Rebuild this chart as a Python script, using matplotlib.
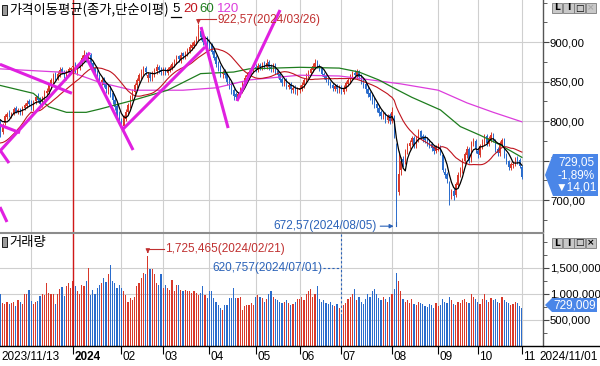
import numpy as np
import pandas as pd
import matplotlib
matplotlib.use("Agg")
import matplotlib.pyplot as plt
import matplotlib.transforms as mtransforms
from matplotlib.patches import Polygon, Rectangle
from matplotlib.lines import Line2D
from matplotlib.ticker import MultipleLocator

# ---- daily bars, 2023/11/13 .. 2024/11/01 (one row per month) ----
open_ = [
    800, 786, 797, 805, 811, 806, 809, 816, 811, 815, 809, 816, 819, 825,
    823, 816, 825, 832, 828, 821, 829, 835, 837, 844, 850, 859, 855, 859, 866, 863, 856, 861, 864,
    868, 872, 862, 867, 873, 879, 886, 877, 884, 873, 867, 861, 857, 848, 853, 847, 838, 843, 836, 827, 819, 810,
    801, 794, 803, 811, 819, 829, 837, 846, 851, 856, 861, 867, 855, 859, 854, 859, 863, 869, 865,
    861, 866, 861, 865, 867, 871, 875, 882, 877, 886, 881, 885, 889, 893, 895, 899, 905, 914, 908, 899, 905,
    900, 896, 889, 881, 873, 869, 859, 863, 859, 851, 846, 839, 834, 829, 833, 839, 847, 856, 857, 861, 864,
    869, 865, 871, 867, 873, 869, 875, 869, 865, 871, 863, 859, 853, 847, 851, 843, 847, 839, 843, 837,
    839, 841, 845, 851, 857, 861, 865, 869, 875, 869, 867, 859, 857, 851, 849, 845, 841, 845, 839,
    843, 837, 841, 847, 851, 855, 861, 857, 863, 857, 851, 847, 841, 835, 831, 827, 821, 817, 811, 805, 809, 801, 807,
    800, 805, 770, 710, 738, 752, 750, 762, 769, 773, 779, 769, 777, 787, 781, 779, 777, 774, 771, 767, 762,
    766, 767, 757, 736, 733, 722, 705, 712, 706, 719, 733, 737, 749, 757, 765, 752, 771, 775,
    762, 757, 767, 773, 781, 771, 777, 783, 775, 765, 759, 771, 777, 757, 749, 741, 744, 745, 753, 751,
    742,
]
high = [
    802, 797, 809, 812, 814, 812, 818, 819, 816, 817, 819, 823, 826, 828,
    826, 826, 833, 835, 830, 832, 839, 842, 848, 855, 861, 862, 863, 868, 869, 865, 864, 869, 869,
    878, 875, 869, 877, 884, 890, 888, 886, 886, 876, 869, 864, 859, 856, 856, 849, 846, 846, 838, 830, 822, 813,
    804, 808, 815, 823, 833, 841, 848, 855, 861, 866, 870, 870, 862, 862, 863, 867, 872, 871, 868,
    868, 868, 869, 871, 875, 879, 884, 884, 887, 888, 889, 893, 898, 900, 903, 908, 922.57, 916, 910, 907, 908,
    904, 899, 892, 884, 876, 871, 865, 866, 861, 854, 849, 842, 837, 837, 843, 851, 858, 862, 865, 868, 872,
    872, 873, 874, 875, 876, 878, 877, 872, 873, 873, 866, 861, 856, 853, 854, 849, 849, 845, 846, 843,
    846, 849, 855, 861, 865, 869, 873, 878, 877, 872, 869, 862, 859, 854, 851, 848, 847, 847, 845,
    846, 845, 851, 855, 859, 863, 864, 866, 865, 859, 854, 850, 844, 838, 834, 830, 824, 820, 814, 812, 812, 809, 810,
    818, 808, 772, 762, 754, 756, 765, 772, 776, 781, 781, 781, 790, 789, 784, 782, 780, 777, 774, 770, 770,
    772, 770, 758, 740, 736, 724, 714, 715, 723, 735, 742, 753, 761, 768, 767, 775, 778, 777,
    765, 771, 777, 784, 783, 781, 786, 785, 777, 767, 775, 779, 778, 759, 751, 748, 750, 755, 756, 753,
    744,
]
low = [
    780, 784, 795, 803, 805, 804, 807, 810, 809, 807, 807, 814, 817, 819,
    814, 813, 822, 824, 818, 818, 826, 832, 834, 841, 847, 852, 852, 856, 859, 855, 852, 858, 860,
    862, 861, 858, 864, 870, 876, 875, 874, 869, 862, 856, 852, 846, 845, 843, 836, 834, 830, 822, 814, 804, 796,
    790, 791, 800, 808, 816, 826, 834, 842, 848, 853, 858, 858, 850, 851, 851, 856, 860, 861, 858,
    858, 858, 858, 862, 864, 868, 872, 875, 874, 879, 878, 882, 886, 890, 892, 896, 902, 903, 896, 896, 894,
    891, 885, 877, 869, 863, 856, 855, 854, 846, 841, 834, 827, 826, 826, 830, 836, 844, 852, 854, 858, 861,
    862, 862, 864, 864, 866, 866, 865, 862, 862, 859, 855, 849, 844, 844, 841, 840, 836, 836, 834, 833,
    835, 838, 842, 848, 854, 858, 862, 866, 867, 863, 857, 853, 849, 845, 842, 838, 838, 836, 836,
    834, 834, 838, 844, 848, 852, 854, 854, 853, 847, 842, 836, 830, 826, 822, 816, 812, 806, 802, 802, 798, 798, 796,
    797, 778, 672.57, 706, 732, 742, 746, 758, 764, 770, 766, 766, 774, 777, 774, 772, 769, 766, 762, 758, 759,
    762, 757, 735, 728, 722, 694, 701, 700, 704, 716, 729, 734, 746, 753, 747, 748, 768, 760,
    753, 754, 764, 770, 769, 768, 774, 773, 761, 756, 756, 768, 753, 745, 738, 738, 741, 743, 746, 740,
    726,
]
close = [
    788, 795, 806, 809, 808, 810, 815, 812, 814, 810, 817, 820, 823, 822,
    818, 824, 830, 827, 822, 830, 836, 838, 845, 852, 858, 856, 860, 864, 862, 858, 862, 866, 866.57,
    870, 864, 866, 874, 880, 884, 878, 882, 872, 866, 860, 856, 850, 852, 846, 840, 842, 834, 826, 818, 808, 800,
    796, 805, 812, 820, 830, 838, 845, 852, 858, 862, 866, 862, 858, 855, 860, 864, 868, 864, 862,
    864, 862, 866, 868, 872, 876, 880, 878, 884, 882, 886, 890, 894, 896, 900, 904, 912, 906, 900, 904, 898,
    895, 888, 880, 872, 868, 860, 862, 858, 850, 845, 838, 832, 830, 834, 840, 848, 855, 858, 862, 865, 868,
    866, 870, 868, 872, 870, 874, 868, 866, 870, 862, 858, 852, 848, 850, 844, 846, 840, 842, 838, 840,
    842, 846, 852, 858, 862, 866, 870, 874, 870, 866, 860, 856, 852, 848, 846, 842, 844, 840, 842,
    838, 842, 848, 852, 856, 860, 858, 862, 856, 850, 846, 840, 834, 830, 826, 820, 816, 810, 806, 808, 802, 806, 800,
    812, 780, 691.28, 733, 750, 748, 762, 768, 772, 778, 770, 778, 786, 780, 778, 776, 773, 770, 766, 762, 767,
    768, 760, 738, 732, 726, 706, 710, 705, 720, 732, 738, 750, 758, 764, 750, 772, 774, 764,
    758, 768, 774, 780, 772, 778, 782, 776, 764, 760, 772, 776, 756, 748, 742, 745, 746, 752, 750, 743.06,
    729.05,
]
# volume in thousands
volume = [
    996, 820, 805, 845, 800, 830, 850, 770, 880, 850, 800, 990, 1000, 1080,
    870, 800, 840, 870, 960, 1000, 980, 1200, 1010, 990, 1000, 800, 1000, 1100, 1130, 960, 1150, 1200, 1120,
    1245, 1150, 1050, 1000, 1180, 1150, 1245, 1494, 984, 1080, 1000, 1114, 1180, 1210, 1310, 1230, 1376, 1558, 1245, 1210, 1114, 1180,
    1114, 1049, 984, 853, 918, 885, 950, 1147, 1212, 1310, 1408, 1376, 1725.465, 1474, 1474, 1376, 1212, 1180, 1376,
    1114, 1180, 1114, 1080, 1270, 1049, 1180, 1180, 1080, 1049, 1080, 1049, 1060, 1016, 1060, 1016, 984, 1016, 1147, 984, 918,
    1049, 1049, 918, 853, 780, 722, 700, 788, 788, 918, 918, 1114, 918, 918, 950, 700, 760, 788, 788, 820, 788,
    950, 984, 950, 918, 853, 900, 1000, 1049, 950, 900, 880, 850, 820, 850, 880, 820, 780, 800, 850, 900,
    900, 950, 880, 1000, 1050, 1100, 950, 1000, 1150, 900, 850, 880, 820, 800, 850, 780, 760, 800, 720,
    620.757, 780, 820, 900, 950, 1000, 1100, 880, 950, 850, 800, 900, 1000, 950, 1050, 1100, 1000, 920, 880, 950, 900, 850, 950,
    1000, 1100, 1400, 1250, 1050, 900, 850, 880, 820, 900, 800, 780, 850, 820, 800, 760, 740, 800, 780, 720, 820,
    760, 780, 900, 850, 820, 950, 880, 800, 780, 850, 820, 880, 900, 850, 820, 1000, 950, 900,
    850, 800, 900, 1000, 880, 850, 920, 880, 900, 850, 820, 950, 880, 850, 820, 780, 800, 850, 820, 760,
    729.009,
]
# closes before 2023/11/13 (for the start of the 5/20 averages)
close_before = [785, 781, 772, 762, 755, 759, 760, 743, 748, 742, 736, 740, 756, 760, 839, 806, 806, 811, 796]

# 60 / 120 day averages
ma60_idx = [0, 15, 22, 30, 39, 45, 60, 76, 91, 106, 113, 136, 154, 163, 172, 180, 187, 200, 209, 218, 227, 237]
ma60_val = [845, 835, 818, 811, 811, 815, 826, 839, 860, 862, 866, 868, 867, 862, 852, 840, 830, 814, 793, 782, 770, 754]
ma120_idx = [0, 33, 45, 60, 76, 83, 98, 113, 136, 154, 163, 182, 199, 212, 224, 237]
ma120_val = [866, 861, 849, 839, 839, 839, 842, 852, 858, 857, 854, 847, 839, 823, 811, 799]

# user drawn trend lines (bar index, price) -> (bar index, price)
trend_lines = [
    (-0.2, 871.8, 32.5, 835.1),
    (-0.2, 762.0, 40.7, 886.5),
    (-0.2, 794.9, 8.9, 785.2),
    (-0.2, 763.3, 3.9, 746.8),
    (-0.2, 691.1, 3.0, 672.2),
    (38.5, 883.5, 60.3, 763.3),
    (55.3, 788.6, 93.0, 893.7),
    (91.2, 919.0, 103.5, 791.1),
    (107.5, 825.3, 127.1, 940.5),
]

month_idx = [14, 33, 55, 74, 95, 116, 136, 155, 178, 199, 217, 237]
tick_idx = [33, 55, 74, 95, 116, 136, 155, 178, 199, 217, 237]
tick_lbl = ['2024', '02', '03', '04', '05', '06', '07', '08', '09', '10', '11']
first_date = '2023/11/13'
last_date = '2024/11/01'
hi_date, lo_date = '2024/03/26', '2024/08/05'
vhi_date, vlo_date = '2024/02/21', '2024/07/01'

# ------------------------------------------------------------------
UP, DN = '#D8382A', '#2A6CCC'
GRID = '#CFCFCF'
RED_T, BLUE_T = '#C03030', '#2A62B8'
CJK = ['Noto Sans CJK KR', 'DejaVu Sans']
plt.rcParams['font.family'] = ['Liberation Sans', 'DejaVu Sans']

o = np.array(open_, float)
h = np.array(high, float)
l = np.array(low, float)
c = np.array(close, float)
v = np.array(volume, float)
n = len(c)
x = np.arange(n)
col = np.where(c >= o, UP, DN)

full = pd.Series(close_before + list(close))
ma5 = full.rolling(5, min_periods=1).mean().values[len(close_before):]
ma20 = full.rolling(20, min_periods=1).mean().values[len(close_before):]

W, H = 600, 366
fig = plt.figure(figsize=(W / 100, H / 100), dpi=100)


def fpt(px, py):
    return px / W, 1 - py / H


ax1 = fig.add_axes([0, 134 / H, 543 / W, 232 / H])
ax2 = fig.add_axes([0, 20 / H, 543 / W, 112 / H])
xlim = (-0.18, 246.6)

for ax in (ax1, ax2):
    ax.set_xlim(*xlim)
    for s in ('top', 'left', 'bottom'):
        ax.spines[s].set_visible(False)
    ax.spines['right'].set_color('#555555')
    ax.spines['right'].set_linewidth(1)
    for m in month_idx:
        ax.axvline(m, color=GRID, lw=0.8, zorder=0)
    ax.yaxis.tick_right()
    ax.tick_params(axis='y', which='both', direction='out', color='#444444',
                   labelsize=8.2, pad=1, left=False, labelleft=False)
    ax.tick_params(axis='y', which='major', length=4)
    ax.tick_params(axis='y', which='minor', length=3)

# ---- price panel ----
ax1.set_ylim(659.5, 953.2)
pt = [700, 750, 800, 850, 900]
ax1.set_yticks(pt)
ax1.set_yticklabels([f'{p:.2f}'.replace('.', ',') for p in pt])
ax1.yaxis.set_minor_locator(MultipleLocator(25))
ax1.tick_params(axis='x', bottom=False, labelbottom=False)
for p in pt:
    ax1.axhline(p, color=GRID, lw=0.8, zorder=0)

ax1.vlines(x, l, h, colors=col, lw=0.7, zorder=2)
ax1.bar(x, np.maximum(np.abs(c - o), 0.4), bottom=np.minimum(o, c), width=0.55,
        color=col, lw=0, zorder=2)

ax1.plot(ma120_idx, ma120_val, color='#DC3CDC', lw=0.9, zorder=3)
ax1.plot(ma60_idx, ma60_val, color='#1E7D1E', lw=0.9, zorder=3)
ax1.plot(x, ma20, color='#C0141E', lw=0.8, zorder=3)
ax1.plot(x, ma5, color='black', lw=0.9, zorder=3)

for x0, p0, x1, p1 in trend_lines:
    ax1.plot([x0, x1], [p0, p1], color='#E020E0', lw=2.2, zorder=4,
             solid_capstyle='butt')

# ---- volume panel ----
ax2.set_ylim(0, 2150)
vt = [500, 1000, 1500]
ax2.set_yticks(vt)
ax2.set_yticklabels([f'{t * 1000:,}' for t in vt])
ax2.yaxis.set_minor_locator(MultipleLocator(250))
for t in vt:
    ax2.axhline(t, color=GRID, lw=0.8, zorder=0)
ax2.bar(x, v, width=0.55, color=col, lw=0, zorder=2)
ax2.set_xticks(tick_idx)
ax2.tick_params(axis='x', direction='out', length=6, width=0.8, color='black',
                labelbottom=False)

fig.canvas.draw()


def off(ax, xd, yd, dx, dy):
    # data point moved by (dx, dy) pixels, dy downwards
    px, py = ax.transData.transform((xd, yd))
    return ax.transData.inverted().transform((px + dx, py - dy))


def seg(ax, pts, **kw):
    xs, ys = zip(*pts)
    ax.plot(xs, ys, clip_on=False, zorder=6, **kw)


# price high
hi = int(np.argmax(h))
a = off(ax1, hi, h[hi], 0, -5)
b = off(ax1, hi, h[hi], 18, -5)
seg(ax1, [a, b], color=RED_T, lw=0.8)
ax1.annotate('', xy=(hi, h[hi]), xytext=a,
             arrowprops=dict(arrowstyle='-|>', color=RED_T, lw=0.8, mutation_scale=6))
t = off(ax1, hi, h[hi], 19, -4.5)
ax1.text(t[0], t[1], f'{h[hi]:.2f}'.replace('.', ',') + f'({hi_date})', color=RED_T,
         fontsize=8.5, va='center', ha='left', zorder=6)

# price low
lo = int(np.argmin(l))
a = off(ax1, lo, l[lo], -19, 4.5)
b = off(ax1, lo, l[lo], 0, 4.5)
ax1.annotate('', xy=b, xytext=a,
             arrowprops=dict(arrowstyle='-|>', color=BLUE_T, lw=0.8, mutation_scale=6))
seg(ax1, [b, (lo, l[lo])], color=BLUE_T, lw=0.8)
t = off(ax1, lo, l[lo], -20, 4.5)
ax1.text(t[0], t[1], f'{l[lo]:.2f}'.replace('.', ',') + f'({lo_date})', color=BLUE_T,
         fontsize=8.5, va='center', ha='right', zorder=6)

# volume high
vh = int(np.argmax(v))
a = off(ax2, vh, v[vh], 0, -7)
b = off(ax2, vh, v[vh], 16, -7)
seg(ax2, [a, b], color=RED_T, lw=0.8)
ax2.annotate('', xy=(vh, v[vh]), xytext=a,
             arrowprops=dict(arrowstyle='-|>', color=RED_T, lw=0.8, mutation_scale=6))
t = off(ax2, vh, v[vh], 17, -7)
ax2.text(t[0], t[1], f'{round(v[vh] * 1000):,}({vhi_date})', color=RED_T,
         fontsize=8.5, va='center', ha='left', zorder=6)

# volume low
vl = int(np.argmin(v))
a = off(ax2, vl, v[vl], -18, -46)
b = off(ax2, vl, v[vl], 0, -46)
top = off(ax2, vl, v[vl], 0, -80)
seg(ax2, [a, b], color=BLUE_T, lw=0.8, ls=(0, (2, 2)))
seg(ax2, [top, (vl, v[vl])], color=BLUE_T, lw=0.8, ls=(0, (2, 2)))
t = off(ax2, vl, v[vl], -19, -46)
ax2.text(t[0], t[1], f'{round(v[vl] * 1000):,}({vlo_date})', color=BLUE_T,
         fontsize=8.5, va='center', ha='right', zorder=6)

# date labels
tr = mtransforms.offset_copy(
    mtransforms.blended_transform_factory(ax2.transData, ax2.transAxes),
    fig=fig, x=1.5, y=0, units='dots')
for ti, tl in zip(tick_idx, tick_lbl):
    ax2.text(ti, -0.098, tl, transform=tr, fontsize=8.5, va='center', ha='left',
             fontweight='bold' if tl == '2024' else 'normal', clip_on=False)
fig.text(*fpt(1, 357), first_date, fontsize=8.5, va='center', ha='left')
fig.text(*fpt(598, 357), last_date, fontsize=8.5, va='center', ha='right')

# frame lines
fig.add_artist(Line2D([0, 1], [fpt(0, 346)[1]] * 2, color='black', lw=1))
fig.add_artist(Line2D([0, 543 / W], [fpt(0, 233)[1]] * 2, color='#8C8C8C', lw=1.5))
bt = mtransforms.blended_transform_factory(ax1.transData, fig.transFigure)
fig.add_artist(Line2D([33, 33], [20 / H, 1], transform=bt, color='#D01818', lw=1, zorder=1))

# panel titles
for py, label in ((10, '가격이동평균(종가,단순이평)'), (242, '거래량')):
    fig.add_artist(Rectangle(fpt(2, py + 5), 5 / W, 10 / H, fc='#9A9A9A', ec='black', lw=0.6))
    fig.text(*fpt(9, py), label, fontsize=9.6, family=CJK, va='center', ha='left')
for px, s, cc in ((172, '5', 'black'), (183, '20', '#C0141E'), (199, '60', '#1E7D1E'), (217, '120', '#DC3CDC')):
    fig.text(*fpt(px, 9), s, fontsize=9.5, color=cc, va='center', ha='left')
fig.add_artist(Line2D([171 / W, 181 / W], [fpt(0, 17)[1]] * 2, color='black', lw=0.9))

# small window buttons
for yb, last_col in ((3, '#A8A8A8'), (238, 'black')):
    for k, g in enumerate(['L', 'I', '□', '×']):
        x0 = 552 + k * 11.2
        fig.add_artist(Rectangle(fpt(x0, yb + 10), 10.4 / W, 10 / H, fc='#C8C8C8', ec='#7A7A7A', lw=0.6))
        fig.text(*fpt(x0 + 5.2, yb + 5), g, fontsize=6.5, fontweight='bold', family=['DejaVu Sans'],
                 color=last_col if g == '×' else 'black', ha='center', va='center')

# current value boxes
chg = c[-1] - c[-2]
pct = chg / c[-2] * 100
fig.add_artist(Polygon([fpt(545, 175), fpt(553, 154), fpt(598, 154), fpt(598, 196), fpt(553, 196)],
                       closed=True, fc='#4A86E8', ec='none', zorder=10))
sign = '▼' if chg < 0 else '▲'
for py, s in ((162, f'{c[-1]:.2f}'.replace('.', ',')),
              (175, f'{pct:.2f}%'.replace('.', ',')),
              (188, sign + f'{abs(chg):.2f}'.replace('.', ','))):
    fig.text(*fpt(576, py), s, fontsize=8.5, color='white', ha='center', va='center',
             family=['Liberation Sans', 'DejaVu Sans'], zorder=11)
fig.add_artist(Polygon([fpt(545, 305), fpt(552, 298), fpt(597, 298), fpt(597, 312), fpt(552, 312)],
                       closed=True, fc='#4A86E8', ec='none', zorder=10))
fig.text(*fpt(575, 305), f'{round(v[-1] * 1000):,}', fontsize=8.5, color='white',
         ha='center', va='center', zorder=11)

fig.savefig('out.png', dpi=100)
